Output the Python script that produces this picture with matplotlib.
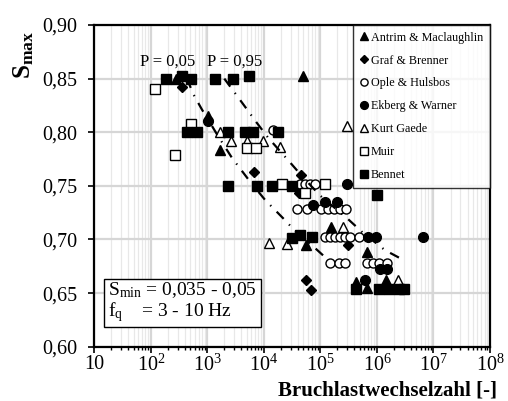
import numpy as np
import matplotlib.pyplot as plt
from matplotlib.ticker import FixedLocator, LogLocator, NullFormatter

plt.rcParams['font.family'] = ['Liberation Serif', 'DejaVu Serif']
plt.rcParams['mathtext.fontset'] = 'custom'
plt.rcParams['mathtext.rm'] = 'Liberation Serif'
plt.rcParams['mathtext.it'] = 'Liberation Serif:italic'
plt.rcParams['mathtext.bf'] = 'Liberation Serif:bold'

# --- data (N = cycles to failure, S = S_max) ---
antrim_n = [281, 49000, 1026, 1675, 154000, 55700, 670000, 433000, 670000, 1420000]
antrim_s = [0.85, 0.852, 0.815, 0.783, 0.712, 0.695, 0.688, 0.660, 0.655, 0.662]

graf_n = [359, 6740, 45700, 41700, 310000, 55700, 68200]
graf_s = [0.842, 0.763, 0.760, 0.743, 0.695, 0.662, 0.653]

ople_n = [14400,
          20300, 43500, 53500, 66000, 80000,
          38500, 58000, 102000, 136000, 174000, 222000, 283000,
          120000, 148000, 181000, 222000, 272000, 333000, 480000,
          148000, 213000, 272000, 670000, 850000, 1090000, 1500000]
ople_s = [0.802,
          0.752, 0.752, 0.752, 0.752, 0.752,
          0.728, 0.728, 0.728, 0.728, 0.728, 0.728, 0.728,
          0.702, 0.702, 0.702, 0.702, 0.702, 0.702, 0.702,
          0.678, 0.678, 0.678, 0.678, 0.678, 0.678, 0.678]

ekberg_n = [1026, 296000, 74000, 120000, 196000, 690000, 950000, 6500000,
            1120000, 1500000, 620000]
ekberg_s = [0.810, 0.752, 0.732, 0.735, 0.735, 0.702, 0.702, 0.702,
            0.672, 0.672, 0.662]

gaede_n = [1675, 2620, 5000, 9600, 19200, 296000, 12300, 25600, 250000, 2350000]
gaede_s = [0.800, 0.792, 0.792, 0.792, 0.786, 0.806, 0.697, 0.696, 0.712, 0.662]

muir_n = [119, 268, 514, 5000, 7200, 21000, 120000, 53500]
muir_s = [0.840, 0.779, 0.808, 0.785, 0.785, 0.752, 0.752, 0.743]

bennet_n = [185, 356, 514, 1365, 2845, 5460,
            437, 656, 2320, 4640, 6420, 17800,
            2320, 7550, 13900, 31400, 990000,
            31400, 43400, 70800,
            433000, 1100000, 1660000, 2500000, 2950000]
bennet_s = [0.850, 0.852, 0.850, 0.850, 0.850, 0.852,
            0.800, 0.800, 0.800, 0.800, 0.800, 0.800,
            0.750, 0.750, 0.750, 0.750, 0.741,
            0.701, 0.704, 0.702,
            0.654, 0.654, 0.654, 0.654, 0.654]

p05_n = [437, 557, 804, 1026, 1479, 2729, 5675, 10440, 23600, 35500, 80200, 136000]
p05_s = [0.850, 0.836, 0.821, 0.812, 0.798, 0.776, 0.754, 0.737, 0.718, 0.708, 0.692, 0.681]

p95_n = [1990, 3080, 4830, 7550, 11830, 26700, 49200, 98400, 307600, 544000, 1390000, 2900000]
p95_s = [0.850, 0.8365, 0.8225, 0.8085, 0.795, 0.774, 0.758, 0.741, 0.719, 0.707, 0.690, 0.681]

x_ticks = [1e1, 1e2, 1e3, 1e4, 1e5, 1e6, 1e7, 1e8]
x_labels = ['10'] + [r'$\mathregular{10^{%d}}$' % k for k in range(2, 9)]
y_ticks = [0.60, 0.65, 0.70, 0.75, 0.80, 0.85, 0.90]
y_labels = ['0,60', '0,65', '0,70', '0,75', '0,80', '0,85', '0,90']

series = [
    ('Antrim & Maclaughlin', antrim_n, antrim_s, '^', True, 7),
    ('Graf & Brenner', graf_n, graf_s, 'D', True, 5),
    ('Ople & Hulsbos', ople_n, ople_s, 'o', False, 6.5),
    ('Ekberg & Warner', ekberg_n, ekberg_s, 'o', True, 7),
    ('Kurt Gaede', gaede_n, gaede_s, '^', False, 7),
    ('Muir', muir_n, muir_s, 's', False, 6.5),
    ('Bennet', bennet_n, bennet_s, 's', True, 7),
]

fig = plt.figure(figsize=(5.08, 4.01), dpi=100)
ax = fig.add_axes([0.1857, 0.1354, 0.7789, 0.8023])

for name, n, s, mk, filled, ms in series:
    ax.plot(n, s, linestyle='none', marker=mk, ms=ms, mec='black', mew=1,
            mfc='black' if filled else 'white', label=name, zorder=3)

for n, s in [(p05_n, p05_s), (p95_n, p95_s)]:
    ax.plot(n, s, color='black', lw=1.6, dashes=(4.5, 3.5, 0.6, 3.5), zorder=4)

ax.text(201, 0.8656, 'P = 0,05', ha='center', va='center', fontsize=12)
ax.text(3080, 0.8656, 'P = 0,95', ha='center', va='center', fontsize=12)

ax.set_xscale('log')
ax.set_xlim(10, 1e8)
ax.set_ylim(0.6, 0.9)
ax.xaxis.set_major_locator(FixedLocator(x_ticks))
ax.set_xticklabels(x_labels)
ax.xaxis.set_minor_locator(LogLocator(base=10, subs=np.arange(2, 10), numticks=20))
ax.xaxis.set_minor_formatter(NullFormatter())
ax.set_yticks(y_ticks)
ax.set_yticklabels(y_labels)
ax.tick_params(which='major', direction='out', length=4, width=1.2, labelsize=14.5)
ax.tick_params(which='minor', direction='out', length=2.5, width=1)
ax.tick_params(axis='x', pad=2)
ax.tick_params(axis='y', pad=8)

ax.set_axisbelow(True)
ax.grid(True, which='major', axis='both', color='#d6d6d6', lw=1.6)
ax.grid(True, which='minor', axis='x', color='#e8e8e8', lw=0.9)
for sp in ax.spines.values():
    sp.set_linewidth(1.6)

leg = ax.legend(loc='upper right', borderaxespad=0, fontsize=8.7, frameon=True,
                fancybox=False, handlelength=0.7, handletextpad=0.25,
                labelspacing=0.9, borderpad=0.55, markerscale=0.8)
leg.get_frame().set_edgecolor('black')
leg.get_frame().set_linewidth(1)
leg.set_zorder(10)

ax.text(0.0346, 0.072,
        r'$\mathregular{S_{min}}$ = 0,035 - 0,05' + '\n' + r'$\mathregular{f_{q}}$    = 3 - 10 Hz',
        transform=ax.transAxes, ha='left', va='bottom', fontsize=14, linespacing=1.0,
        bbox=dict(boxstyle='square,pad=0.2', fc='white', ec='black', lw=1), zorder=10)

fig.text(497 / 508, 1 - 390 / 401, 'Bruchlastwechselzahl [-]', ha='right', va='center',
         fontsize=15, fontweight='bold')
fig.text(24 / 508, 1 - 55 / 401, r'$\mathbf{S_{max}}$', ha='center', va='center',
         rotation=90, fontsize=18)

fig.savefig('out.png', dpi=100)
